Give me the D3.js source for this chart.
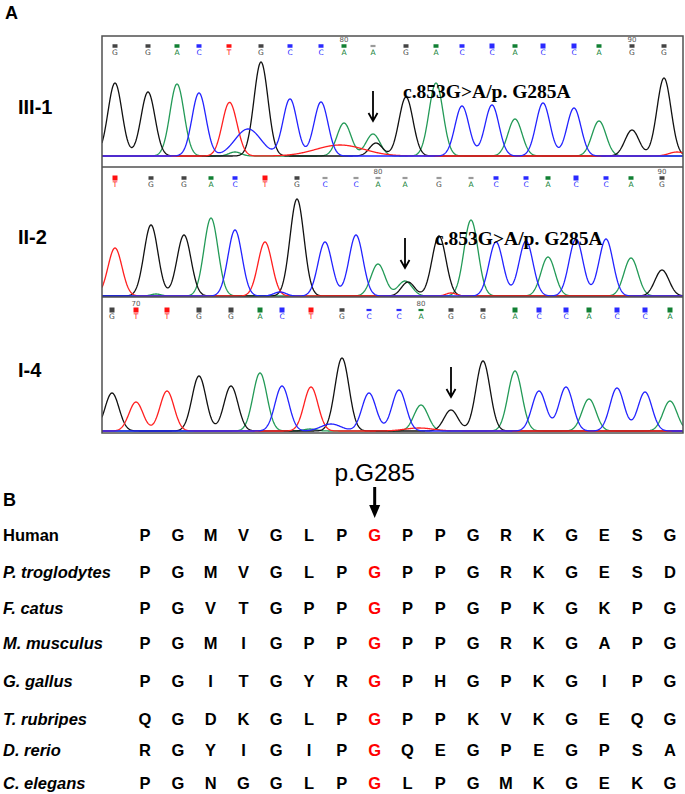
<!DOCTYPE html>
<html>
<head>
<meta charset="utf-8">
<script src="https://cdn.jsdelivr.net/npm/d3@7"></script>
<style>
body { margin: 0; background: #fff; }
</style>
</head>
<body>
<div class="chart"></div>
<script>
// ---- panel A data: base calls, peak scan positions, peak heights, call quality ----
var subjects = ["III-1", "II-2", "I-4"];

var calls1 = "GGACTGCCAAGACCACCAGG".split("");
var scans1 = [13, 46, 75, 97, 127, 159, 188, 219, 242, 271, 304, 334, 360, 390, 413, 441, 472, 497, 530, 562];
var heights1 = [73, 64, 72, 63, 51, 94, 57, 54, 33, 22, 59, 73, 50, 51, 37, 53, 48, 35, 26, 78];
var quals1 = [30, 30, 30, 30, 30, 30, 30, 30, 25, 10, 30, 30, 30, 40, 30, 40, 40, 30, 30, 30];
// secondary signal: [channel, scan, height, width]
var extra1 = [["G", 274, 13, 6.5], ["C", 146, 27, 13], ["T", 238, 11, 24], ["T", 135, 6, 6], ["A", 133, 4, 6], ["T", 575, 4, 8]];
var ticks1 = [[8, "80"], [18, "90"]];

var calls2 = "TGGACTGCCAAGACCACCAG".split("");
var scans2 = [13, 49, 82, 109, 133, 163, 195, 223, 254, 276, 303, 337, 369, 394, 424, 446, 474, 504, 529, 560];
var heights2 = [48, 71, 61, 78, 66, 54, 97, 54, 61, 32, 15, 60, 76, 54, 55, 39, 57, 57, 38, 26];
var quals2 = [35, 30, 30, 30, 25, 35, 25, 12, 12, 12, 10, 12, 12, 25, 25, 25, 40, 25, 25, 25];
var extra2 = [["G", 306, 14, 6.5], ["C", 178, 4, 6], ["T", 349, 3, 5], ["A", 54, 2, 5]];
var ticks2 = [[9, "80"], [19, "90"]];

var calls3 = "GTTGGACTGCCAGGACCACCA".split("");
var scans3 = [10, 34, 65, 97, 129, 158, 180, 209, 240, 267, 297, 319, 349, 381, 413, 437, 464, 487, 515, 543, 568];
var heights3 = [38, 29, 40, 55, 45, 58, 45, 44, 73, 38, 41, 26, 21, 70, 60, 40, 44, 32, 43, 39, 30];
var quals3 = [35, 40, 40, 35, 35, 35, 40, 40, 25, 20, 20, 20, 25, 25, 35, 40, 40, 35, 40, 40, 35];
var extra3 = [["C", 229, 7, 10], ["T", 317, 3, 14], ["A", 208, 2, 6]];
var ticks3 = [[1, "70"], [11, "80"]];

var mutatedBase = [9, 10, 12];
var mutationText = "c.853G>A/p. G285A";

// ---- panel B data: alignment around p.G285 ----
var species = ["Human", "P. troglodytes", "F. catus", "M. musculus", "G. gallus", "T. rubripes", "D. rerio", "C. elegans"];
var residues = [
    "PGMVGLPGPPGRKGESG",
    "PGMVGLPGPPGRKGESD",
    "PGVTGPPGPPGPKGKPG",
    "PGMIGPPGPPGRKGAPG",
    "PGITGYRGPHGPKGIPG",
    "QGDKGLPGPPKVKGEQG",
    "RGYIGIPGQEGPEGPSA",
    "PGNGGLPGLPGMKGEKG"
];
var siteColumn = 7;
var siteLabel = "p.G285";

var width = 685;
var height = 794;
var traceColor = { A: "#239a57", C: "#2323ff", G: "#111111", T: "#ff2020" };
var callColor = { A: "#118033", C: "#2a2aff", G: "#444444", T: "#ff1010" };

var panels = [
    { top: 36, bottom: 167, base: 156, sq: 46, calls: calls1, scans: scans1, heights: heights1, quals: quals1, extra: extra1, ticks: ticks1 },
    { top: 167, bottom: 297, base: 296, sq: 178, calls: calls2, scans: scans2, heights: heights2, quals: quals2, extra: extra2, ticks: ticks2 },
    { top: 297, bottom: 433, base: 431, sq: 310, calls: calls3, scans: scans3, heights: heights3, quals: quals3, extra: extra3, ticks: ticks3 }
];

var x = d3.scaleLinear().domain([0, 581]).range([102, 683]);

function build_svg(c) {
    return c.append("svg").attr("width", width).attr("height", height)
        .style("font-family", "'Liberation Sans', Arial, sans-serif");
}

function build_panel(s, p, i) {
    var y = d3.scaleLinear().domain([0, 100]).range([p.base, p.base - 100]);
    var peaks = p.calls.map(function (b, j) {
        return { ch: b, at: p.scans[j], h: p.heights[j], w: 7 };
    }).concat(p.extra.map(function (e) {
        return { ch: e[0], at: e[1], h: e[2], w: e[3] };
    }));

    s.append("clipPath").attr("id", "clip" + i)
        .append("rect").attr("x", x(0)).attr("y", p.top)
        .attr("width", x(581) - x(0)).attr("height", p.bottom - p.top);
    var g = s.append("g").attr("clip-path", "url(#clip" + i + ")");

    var ts = d3.range(0, 581.5, 0.5);
    var line = d3.line().x(function (d) { return x(d[0]); }).y(function (d) { return y(d[1]); });
    ["A", "G", "T", "C"].forEach(function (ch) {
        var pk = peaks.filter(function (d) { return d.ch === ch; });
        var pts = ts.map(function (t) {
            return [t, d3.sum(pk, function (d) {
                return d.h * Math.exp(-(t - d.at) * (t - d.at) / (2 * d.w * d.w));
            })];
        });
        g.append("path").attr("d", line(pts))
            .attr("fill", "none").attr("stroke", traceColor[ch]).attr("stroke-width", 1.3);
    });

    // base calls
    var calls = s.append("g");
    p.calls.forEach(function (b, j) {
        var q = p.quals[j];
        var h = q >= 35 ? 5 : (q >= 25 ? 3.5 : 2.2);
        var col = q < 15 ? "#9a9a9a" : callColor[b];
        calls.append("rect").attr("x", x(p.scans[j]) - 2.5).attr("y", p.sq - h / 2)
            .attr("width", 5).attr("height", h).attr("fill", col);
        calls.append("text").attr("x", x(p.scans[j])).attr("y", p.sq + 9)
            .attr("text-anchor", "middle").attr("font-size", 7.5)
            .attr("font-family", "'DejaVu Sans', sans-serif")
            .attr("fill", callColor[b]).text(b);
    });
    p.ticks.forEach(function (t) {
        calls.append("text").attr("x", x(p.scans[t[0]])).attr("y", p.sq - 4.5)
            .attr("text-anchor", "middle").attr("font-size", 7)
            .attr("font-family", "'DejaVu Sans', sans-serif")
            .attr("fill", "#555").text(t[1]);
    });

    // arrow over the c.853 site
    var k = mutatedBase[i];
    var ax = x(p.scans[k]);
    var tip = y(p.heights[k]) - 13;
    var top = tip - 30;
    s.append("path")
        .attr("d", "M" + ax + "," + top + "V" + tip + "M" + (ax - 4.5) + "," + (tip - 8) + "L" + ax + "," + tip + "L" + (ax + 4.5) + "," + (tip - 8))
        .attr("fill", "none").attr("stroke", "#000").attr("stroke-width", 1.8);
    if (i < 2) {
        s.append("text").attr("x", ax + 30).attr("y", top + 7)
            .attr("font-family", "'Liberation Serif', 'Times New Roman', serif")
            .attr("font-weight", "bold").attr("font-size", 19.5)
            .text(mutationText);
    }

    s.append("text").attr("x", 18).attr("y", (p.top + p.bottom) / 2 + 12)
        .attr("font-weight", "bold").attr("font-size", 20).text(subjects[i]);
}

function build_frame(s) {
    s.append("rect").attr("x", x(0)).attr("y", panels[0].top)
        .attr("width", x(581) - x(0)).attr("height", panels[2].bottom - panels[0].top)
        .attr("fill", "none").attr("stroke", "#505050").attr("stroke-width", 1.5);
    [panels[0].bottom, panels[1].bottom].forEach(function (yy) {
        s.append("line").attr("x1", x(0)).attr("x2", x(581)).attr("y1", yy).attr("y2", yy)
            .attr("stroke", "#505050").attr("stroke-width", 1.5);
    });
}

function build_alignment(s) {
    var col = d3.scalePoint().domain(d3.range(residues[0].length)).range([145, 670]);
    var row = d3.scaleOrdinal().domain(species).range([535, 572, 608, 643, 681, 719, 750, 783]);

    species.forEach(function (sp, r) {
        s.append("text").attr("x", 3).attr("y", row(sp) + 6)
            .attr("font-weight", "bold").attr("font-size", 16.5)
            .attr("font-style", r === 0 ? "normal" : "italic").text(sp);
        residues[r].split("").forEach(function (aa, c) {
            s.append("text").attr("x", col(c)).attr("y", row(sp) + 6)
                .attr("text-anchor", "middle").attr("font-weight", "bold").attr("font-size", 16.5)
                .attr("fill", c === siteColumn ? "#ff0000" : "#000").text(aa);
        });
    });

    var sx = col(siteColumn);
    s.append("text").attr("x", sx).attr("y", 481).attr("text-anchor", "middle")
        .attr("font-size", 24.5).text(siteLabel);
    s.append("line").attr("x1", sx).attr("x2", sx).attr("y1", 487).attr("y2", 507)
        .attr("stroke", "#000").attr("stroke-width", 3);
    s.append("path").attr("d", "M" + (sx - 5.5) + ",505L" + (sx + 5.5) + ",505L" + sx + ",518Z").attr("fill", "#000");
}

function main() {
    var svg = build_svg(d3.select(".chart"));
    svg.append("text").attr("x", 5).attr("y", 19).attr("font-weight", "bold").attr("font-size", 18).text("A");
    svg.append("text").attr("x", 3).attr("y", 506).attr("font-weight", "bold").attr("font-size", 18).text("B");
    panels.forEach(function (p, i) { build_panel(svg, p, i); });
    build_frame(svg);
    build_alignment(svg);
}

main();
</script>
</body>
</html>
